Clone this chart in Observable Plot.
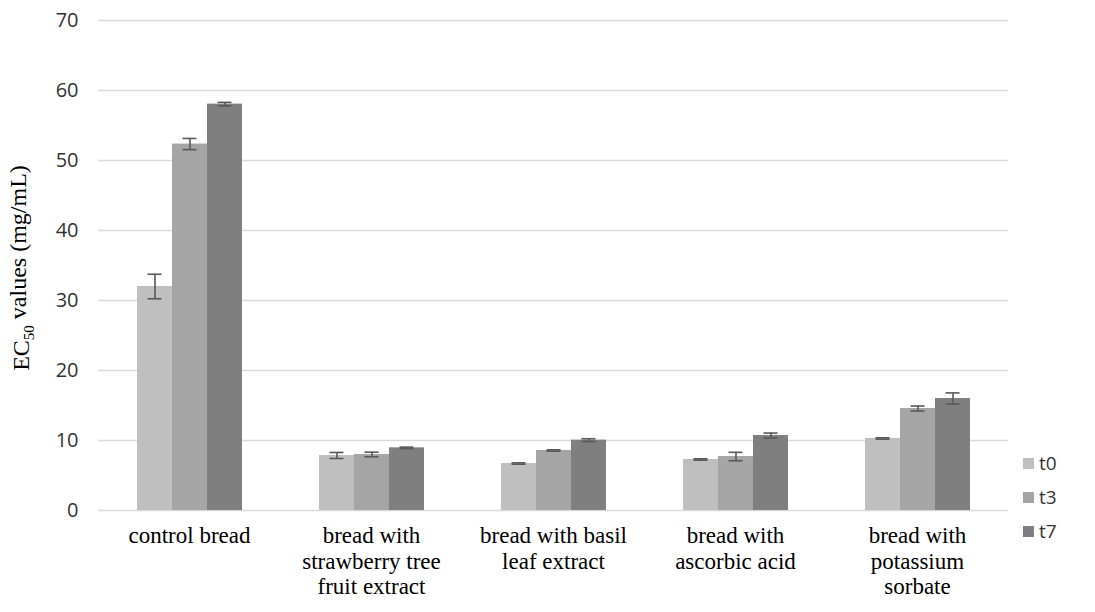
<!DOCTYPE html>
<html><head><meta charset="utf-8">
<script src="https://cdn.jsdelivr.net/npm/d3@7"></script>
<script src="https://cdn.jsdelivr.net/npm/@observablehq/plot@0.6"></script>
<style>
body{margin:0;background:#fff}
#wrap{position:relative;width:1095px;height:612px;background:#fff}
#legend{position:absolute;left:1023px;top:446px;font-family:'Open Sans',sans-serif;font-size:19px;color:#333}
#legend div{display:flex;align-items:center;height:34px}
#legend span.sw{display:inline-block;width:11px;height:11px;margin-right:5px}
</style>
</head><body><div id="wrap"><div id="legend"></div></div>
<script>
const groups = ["control bread", "strawberry", "basil", "ascorbic", "potassium"];
const groupLabels = ["control bread", "bread with\nstrawberry tree\nfruit extract", "bread with basil\nleaf extract", "bread with\nascorbic acid", "bread with\npotassium\nsorbate"];
const series = ["t0", "t3", "t7"];
const t0 = [32.0, 7.86, 6.71, 7.29, 10.29];
const t3 = [52.35, 8.0, 8.57, 7.71, 14.57];
const t7 = [58.05, 8.95, 10.05, 10.71, 16.0];
const err0 = [1.75, 0.43, 0.1, 0.1, 0.1];
const err3 = [0.8, 0.33, 0.1, 0.6, 0.35];
const err7 = [0.25, 0.1, 0.2, 0.35, 0.8];
const colors = ["#bfbfbf", "#a5a5a5", "#7f7f7f"];
const yTicks = [0, 10, 20, 30, 40, 50, 60, 70];

const vals = [t0, t3, t7], errs = [err0, err3, err7];
const rows = [];
groups.forEach((g, i) => series.forEach((s, j) => {
  rows.push({group: g, series: s, value: vals[j][i], lo: vals[j][i] - errs[j][i], hi: vals[j][i] + errs[j][i]});
}));
const labelOf = new Map(groups.map((g, i) => [g, groupLabels[i]]));

const chart = Plot.plot({
  width: 1095, height: 612,
  marginLeft: 98, marginRight: 87, marginTop: 20, marginBottom: 102,
  style: {fontFamily: "'Open Sans', sans-serif", background: "#fff", overflow: "visible"},
  fx: {domain: groups, padding: 0, label: null},
  x: {domain: series, paddingInner: 0, paddingOuter: 1.1, axis: null},
  y: {domain: [0, 70], label: null},
  color: {domain: series, range: colors},
  marks: [
    Plot.gridY(yTicks, {stroke: "#d9d9d9", strokeOpacity: 1, strokeWidth: 1.3}),
    Plot.axisY(yTicks, {tickSize: 0, tickPadding: 20, fontSize: 20, fill: "#333", label: null}),
    Plot.axisFx({anchor: "bottom", tickSize: 0, tickPadding: 14, fontSize: 23, fontFamily: "'Liberation Serif', serif", fill: "#000", lineHeight: 1.12, tickFormat: d => labelOf.get(d), label: null}),
    Plot.barY(rows, {fx: "group", x: "series", y: "value", fill: "series"}),
    Plot.ruleX(rows, {fx: "group", x: "series", y1: "lo", y2: "hi", stroke: "#595959", strokeWidth: 1.6}),
    Plot.tickY(rows, {fx: "group", x: "series", y: "lo", stroke: "#595959", strokeWidth: 1.6, insetLeft: 10.5, insetRight: 10.5}),
    Plot.tickY(rows, {fx: "group", x: "series", y: "hi", stroke: "#595959", strokeWidth: 1.6, insetLeft: 10.5, insetRight: 10.5})
  ]
});
const wrap = document.getElementById("wrap");
wrap.insertBefore(chart, wrap.firstChild);

// y-axis title with subscript
const svg = d3.select(chart);
const t = svg.append("text")
  .attr("transform", "translate(29,268) rotate(-90)")
  .attr("text-anchor", "middle")
  .attr("font-family", "'Liberation Serif', serif")
  .attr("font-size", 24)
  .attr("fill", "#000");
t.append("tspan").text("EC");
t.append("tspan").attr("font-size", 15).attr("dy", "0.35em").text("50");
t.append("tspan").attr("dy", "-0.35em").text(" values (mg/mL)");

// legend
const lg = d3.select("#legend");
series.forEach((s, i) => {
  const d = lg.append("div");
  d.append("span").attr("class", "sw").style("background", colors[i]);
  d.append("span").text(s);
});
</script>
</body></html>
